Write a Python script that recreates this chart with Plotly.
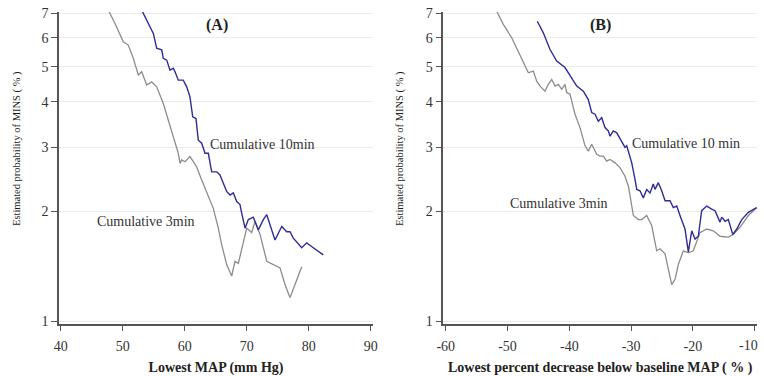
import plotly.graph_objects as go
from plotly.subplots import make_subplots

# Panel A: estimated probability of MINS vs lowest MAP (mm Hg)
map_10 = [53.06, 54.94, 55.48, 56.29, 56.55, 57.10, 57.63, 58.16, 58.44, 58.97, 59.77, 60.32,
          60.85, 61.29, 61.82, 62.19, 62.74, 63.27, 63.81, 64.35, 65.16, 65.69, 66.23, 66.77,
          67.31, 67.84, 68.39, 68.92, 69.19, 69.73, 70.26, 71.06, 71.87, 72.68, 73.23, 73.76,
          74.56, 75.65, 76.45, 76.98, 77.52, 78.87, 79.68, 80.74, 82.35]
prob_map_10 = [7.15, 6.17, 5.62, 5.56, 5.27, 5.21, 4.89, 4.95, 4.84, 4.59, 4.59, 4.40,
               4.13, 3.64, 3.60, 3.14, 3.08, 2.89, 2.89, 2.57, 2.57, 2.52, 2.39, 2.27,
               2.22, 2.25, 2.13, 2.09, 1.98, 1.80, 1.90, 1.93, 1.78, 1.90, 1.96, 1.84,
               1.67, 1.82, 1.76, 1.76, 1.69, 1.59, 1.64, 1.59, 1.52]

map_3 = [47.68, 48.76, 50.10, 50.90, 51.71, 52.52, 53.06, 53.87, 54.68, 55.48, 56.55, 57.35,
         57.90, 58.44, 58.97, 59.24, 59.52, 60.05, 60.85, 61.39, 61.94, 62.74, 63.27, 63.81,
         64.61, 65.42, 65.97, 66.77, 67.58, 68.11, 68.65, 70.00, 70.81, 71.34, 72.15, 73.23,
         74.29, 75.37, 76.18, 76.98, 77.79, 78.87]
prob_map_3 = [7.15, 6.57, 5.85, 5.73, 5.27, 4.74, 4.84, 4.45, 4.54, 4.40, 3.96, 3.57,
              3.28, 3.08, 2.89, 2.71, 2.77, 2.74, 2.83, 2.74, 2.65, 2.44, 2.32, 2.22,
              2.04, 1.80, 1.62, 1.43, 1.33, 1.46, 1.44, 1.80, 1.75, 1.88, 1.73, 1.46,
              1.43, 1.40, 1.26, 1.16, 1.26, 1.41]

# Panel B: estimated probability of MINS vs lowest percent decrease below baseline MAP
pct_10 = [-45.18, -44.21, -43.12, -42.04, -40.70, -39.61, -38.80, -37.73, -36.93, -36.38,
          -35.84, -35.31, -34.76, -34.22, -33.69, -33.41, -32.88, -32.33, -31.80, -30.99,
          -30.71, -29.90, -29.37, -29.09, -28.56, -28.03, -27.48, -26.94, -26.41, -26.13,
          -25.60, -25.05, -24.51, -23.71, -23.17, -22.62, -22.09, -21.28, -20.74, -20.19,
          -19.66, -19.13, -18.58, -17.77, -16.96, -16.42, -15.61, -15.34, -14.80, -14.27,
          -13.56, -12.91, -12.10, -11.03, -9.68]
prob_pct_10 = [6.66, 6.19, 5.57, 5.18, 4.97, 4.66, 4.42, 4.28, 4.06, 3.74,
               3.70, 3.54, 3.62, 3.40, 3.33, 3.22, 3.33, 3.29, 3.16, 3.00,
               3.03, 2.72, 2.45, 2.30, 2.28, 2.18, 2.30, 2.25, 2.38, 2.30,
               2.40, 2.28, 2.14, 2.14, 2.05, 2.07, 1.95, 1.79, 1.55, 1.77,
               1.68, 1.71, 2.01, 2.07, 2.03, 2.01, 1.87, 1.93, 1.88, 1.90,
               1.73, 1.79, 1.90, 1.99, 2.05]

pct_3 = [-51.75, -50.68, -49.32, -48.25, -47.44, -46.63, -45.82, -45.28, -44.74, -43.93,
         -43.40, -42.85, -42.31, -41.78, -41.23, -40.70, -40.42, -39.89, -39.08, -38.27,
         -37.46, -36.93, -36.38, -35.57, -35.03, -34.50, -33.95, -33.41, -32.60, -31.80,
         -30.99, -30.45, -30.18, -29.64, -28.83, -28.28, -27.48, -26.67, -25.86, -25.32,
         -24.51, -23.98, -23.43, -22.90, -22.36, -21.55, -20.74, -19.94, -18.85, -17.77,
         -16.70, -15.61, -14.27, -13.46, -12.38, -11.03, -9.68]
prob_pct_3 = [7.10, 6.53, 6.00, 5.51, 5.13, 4.81, 4.86, 4.56, 4.42, 4.28,
              4.47, 4.61, 4.42, 4.47, 4.33, 4.47, 4.24, 4.20, 3.70, 3.40,
              3.03, 2.93, 3.06, 2.87, 2.84, 2.84, 2.75, 2.78, 2.72, 2.64,
              2.50, 2.35, 2.21, 1.95, 1.90, 1.90, 1.95, 1.83, 1.56, 1.58,
              1.53, 1.39, 1.26, 1.30, 1.43, 1.56, 1.54, 1.56, 1.75, 1.79,
              1.77, 1.71, 1.70, 1.73, 1.81, 1.95, 2.05]

y_ticks = [1, 2, 3, 4, 5, 6, 7]
x_ticks_a = [40, 50, 60, 70, 80, 90]
x_ticks_b = [-60, -50, -40, -30, -20, -10]

BLUE = "#2f2c98"
GRAY = "#8c8c8c"
AXIS = "#555555"
SERIF = "Liberation Serif, Times New Roman, serif"
Y_TITLE = "Estimated probability of MINS ( % )"

# the last label on panel B sits at the page edge; it is placed separately, nudged inward
labels_b = [str(v) for v in x_ticks_b]
edge_label_b = labels_b[-1]
labels_b[-1] = ""

fig = make_subplots(rows=1, cols=2, horizontal_spacing=0.1)

fig.add_trace(go.Scatter(x=map_3, y=prob_map_3, mode="lines",
                         line=dict(color=GRAY, width=1.3), showlegend=False), row=1, col=1)
fig.add_trace(go.Scatter(x=map_10, y=prob_map_10, mode="lines",
                         line=dict(color=BLUE, width=1.4), showlegend=False), row=1, col=1)
fig.add_trace(go.Scatter(x=pct_3, y=prob_pct_3, mode="lines",
                         line=dict(color=GRAY, width=1.3), showlegend=False), row=1, col=2)
fig.add_trace(go.Scatter(x=pct_10, y=prob_pct_10, mode="lines",
                         line=dict(color=BLUE, width=1.4), showlegend=False), row=1, col=2)

xcommon = dict(showline=True, linecolor=AXIS, linewidth=1.5, ticks="outside", ticklen=5,
               tickwidth=1.3, tickcolor=AXIS, showgrid=False, zeroline=False,
               ticklabelstandoff=3, automargin=False,
               tickfont=dict(family=SERIF, size=14, color="#333333"),
               title_font=dict(family=SERIF, size=14, color="#222222"), title_standoff=11)
ycommon = dict(type="log", range=[-0.008, 0.849], tickvals=y_ticks,
               ticktext=[str(v) for v in y_ticks], automargin=False,
               showline=True, linecolor=AXIS, linewidth=1.5, ticks="outside", ticklen=6,
               tickwidth=1.3, tickcolor=AXIS, showgrid=True, gridcolor="#ebebeb", gridwidth=1,
               zeroline=False,
               tickfont=dict(family=SERIF, size=14, color="#333333"))

fig.update_xaxes(xcommon, row=1, col=1, range=[39.73, 90.37], tickvals=x_ticks_a,
                 domain=[0, 0.4499], title_text="<b>Lowest MAP (mm Hg)</b>")
fig.update_xaxes(xcommon, row=1, col=2, range=[-60.39, -9.63], tickvals=x_ticks_b,
                 ticktext=labels_b, domain=[0.5506, 1.0],
                 title_text="<b>Lowest percent decrease below baseline MAP ( % )</b>")
fig.update_yaxes(ycommon, row=1, col=1)
fig.update_yaxes(ycommon, row=1, col=2)

fig.add_annotation(x=x_ticks_b[-1], y=0, xref="x2", yref="paper", text=edge_label_b,
                   showarrow=False, xanchor="center", yanchor="middle", xshift=-6, yshift=-21,
                   font=dict(family=SERIF, size=14, color="#333333"))

# vertical axis titles for both panels
for xpos in (-0.0602, 0.4885):
    fig.add_annotation(x=xpos, y=0.564, xref="paper", yref="paper", text=Y_TITLE,
                       textangle=-90, showarrow=False, xanchor="center", yanchor="middle",
                       font=dict(family=SERIF, size=10.5, color="#1a1a1a"))

note_font = dict(family=SERIF, size=14, color="#333333")
fig.add_annotation(x=65.16, y=0.813, xref="x", yref="y", text="<b>(A)</b>", showarrow=False,
                   font=dict(family=SERIF, size=16, color="#222222"))
fig.add_annotation(x=-35.03, y=0.813, xref="x2", yref="y2", text="<b>(B)</b>", showarrow=False,
                   font=dict(family=SERIF, size=16, color="#222222"))
fig.add_annotation(x=63.76, y=0.486, xref="x", yref="y", text="Cumulative 10min",
                   showarrow=False, xanchor="left", font=note_font)
fig.add_annotation(x=45.53, y=0.2747, xref="x", yref="y", text="Cumulative 3min",
                   showarrow=False, xanchor="left", font=note_font)
fig.add_annotation(x=-30.18, y=0.488, xref="x2", yref="y2", text="Cumulative 10 min",
                   showarrow=False, xanchor="left", font=note_font)
fig.add_annotation(x=-49.92, y=0.3237, xref="x2", yref="y2", text="Cumulative 3min",
                   showarrow=False, xanchor="left", font=note_font)

fig.update_layout(width=764, height=376, margin=dict(l=59, r=7, t=12, b=52),
                  paper_bgcolor="white", plot_bgcolor="white")

fig.write_html("out.html")
